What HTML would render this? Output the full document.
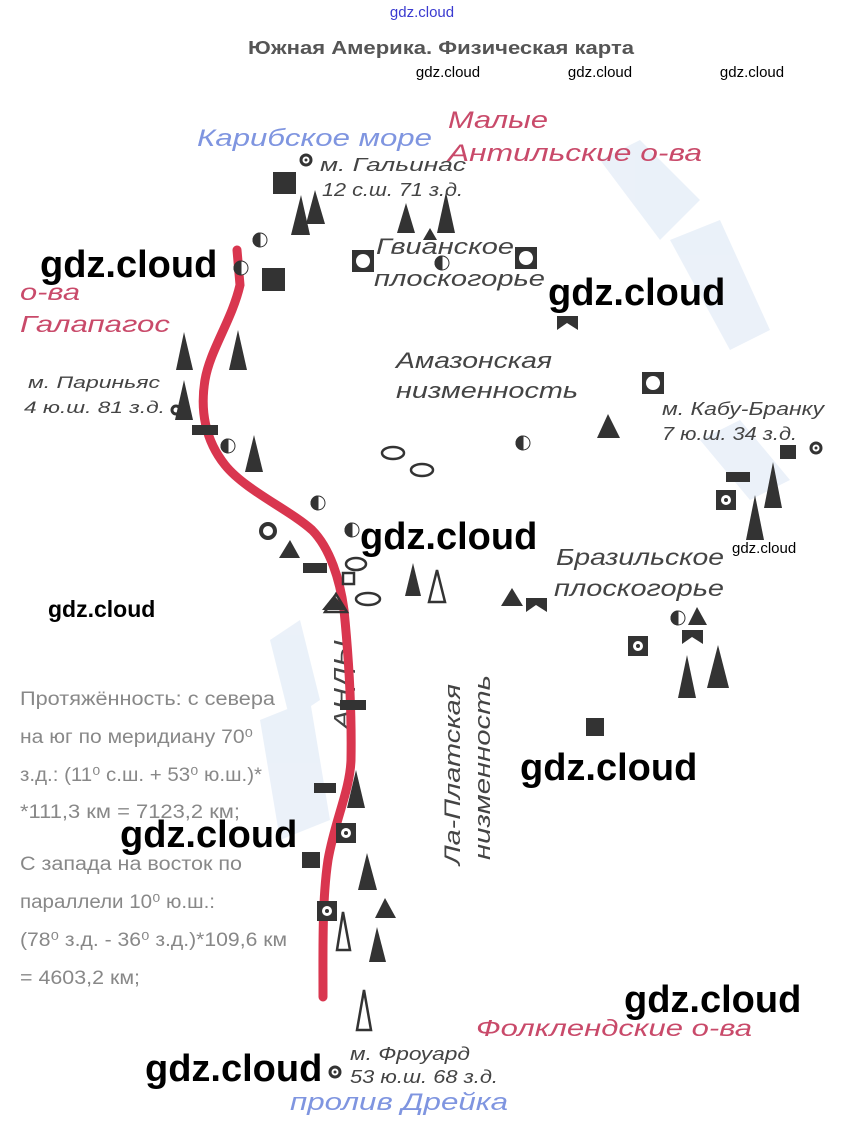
<!DOCTYPE html>
<html><head><meta charset="utf-8"><style>
html,body{margin:0;padding:0;background:#fff;}
svg{display:block}
text{font-family:"Liberation Sans",sans-serif;}
</style></head><body>
<svg width="845" height="1139" viewBox="0 0 845 1139" xmlns="http://www.w3.org/2000/svg">
<rect width="845" height="1139" fill="#fff"/>
<g fill="#e6eef8" opacity="0.8">
<polygon points="600,160 640,140 700,200 660,240"/>
<polygon points="670,240 720,220 770,330 730,350"/>
<polygon points="270,640 300,620 320,700 290,720"/>
<polygon points="260,720 310,700 330,820 280,840"/>
<polygon points="700,440 740,420 790,480 750,500"/>
</g>
<text x="422" y="17" font-size="15" fill="#3a3ad0" text-anchor="middle">gdz.cloud</text>
<text x="248" y="54" font-size="18" font-weight="bold" fill="#555" textLength="386" lengthAdjust="spacingAndGlyphs">Южная Америка. Физическая карта</text>
<text x="448" y="77" font-size="15" fill="#000" text-anchor="middle">gdz.cloud</text>
<text x="600" y="77" font-size="15" fill="#000" text-anchor="middle">gdz.cloud</text>
<text x="752" y="77" font-size="15" fill="#000" text-anchor="middle">gdz.cloud</text>

<g font-style="italic" lengthAdjust="spacingAndGlyphs">
<text x="197" y="146" font-size="24" fill="#7f95e0" textLength="235" lengthAdjust="spacingAndGlyphs">Карибское море</text>
<text x="448" y="128" font-size="24" fill="#c94a6a" textLength="100" lengthAdjust="spacingAndGlyphs">Малые</text>
<text x="448" y="161" font-size="24" fill="#c94a6a" textLength="254" lengthAdjust="spacingAndGlyphs">Антильские о-ва</text>
<text x="320" y="171" font-size="18" fill="#444" textLength="146" lengthAdjust="spacingAndGlyphs">м. Гальинас</text>
<text x="322" y="196" font-size="18" fill="#444" textLength="141" lengthAdjust="spacingAndGlyphs">12 с.ш. 71 з.д.</text>
<text x="376" y="254" font-size="22" fill="#444" textLength="138" lengthAdjust="spacingAndGlyphs">Гвианское</text>
<text x="374" y="286" font-size="22" fill="#444" textLength="171" lengthAdjust="spacingAndGlyphs">плоскогорье</text>
<text x="20" y="300" font-size="23" fill="#c94a6a" textLength="60" lengthAdjust="spacingAndGlyphs">о-ва</text>
<text x="20" y="332" font-size="23" fill="#c94a6a" textLength="150" lengthAdjust="spacingAndGlyphs">Галапагос</text>
<text x="396" y="368" font-size="22" fill="#444" textLength="156" lengthAdjust="spacingAndGlyphs">Амазонская</text>
<text x="396" y="398" font-size="22" fill="#444" textLength="182" lengthAdjust="spacingAndGlyphs">низменность</text>
<text x="28" y="388" font-size="17" fill="#444" textLength="132" lengthAdjust="spacingAndGlyphs">м. Париньяс</text>
<text x="24" y="413" font-size="17" fill="#444" textLength="141" lengthAdjust="spacingAndGlyphs">4 ю.ш. 81 з.д.</text>
<text x="662" y="415" font-size="18" fill="#444" textLength="162" lengthAdjust="spacingAndGlyphs">м. Кабу-Бранку</text>
<text x="662" y="440" font-size="18" fill="#444" textLength="135" lengthAdjust="spacingAndGlyphs">7 ю.ш. 34 з.д.</text>
<text x="556" y="565" font-size="23" fill="#444" textLength="168" lengthAdjust="spacingAndGlyphs">Бразильское</text>
<text x="554" y="596" font-size="23" fill="#444" textLength="170" lengthAdjust="spacingAndGlyphs">плоскогорье</text>
<text x="0" y="0" font-size="23" fill="#444" transform="translate(350,730) rotate(-90)" textLength="90" lengthAdjust="spacingAndGlyphs">АНДЫ</text>
<text x="0" y="0" font-size="22" fill="#444" transform="translate(460,865) rotate(-90)" textLength="181" lengthAdjust="spacingAndGlyphs">Ла-Платская</text>
<text x="0" y="0" font-size="22" fill="#444" transform="translate(490,860) rotate(-90)" textLength="185" lengthAdjust="spacingAndGlyphs">низменность</text>
<text x="476" y="1036" font-size="23" fill="#c94a6a" textLength="276" lengthAdjust="spacingAndGlyphs">Фолклендские о-ва</text>
<text x="350" y="1060" font-size="18" fill="#444" textLength="120" lengthAdjust="spacingAndGlyphs">м. Фроуард</text>
<text x="350" y="1083" font-size="18" fill="#444" textLength="148" lengthAdjust="spacingAndGlyphs">53 ю.ш. 68 з.д.</text>
<text x="290" y="1110" font-size="24" fill="#7f95e0" textLength="218" lengthAdjust="spacingAndGlyphs">пролив Дрейка</text>
</g>

<g font-size="19" fill="#888">
<text x="20" y="705" textLength="255" lengthAdjust="spacingAndGlyphs">Протяжённость: с севера</text>
<text x="20" y="743" textLength="233" lengthAdjust="spacingAndGlyphs">на юг по меридиану 70⁰</text>
<text x="20" y="781" textLength="242" lengthAdjust="spacingAndGlyphs">з.д.: (11⁰ с.ш. + 53⁰ ю.ш.)*</text>
<text x="20" y="818" textLength="220" lengthAdjust="spacingAndGlyphs">*111,3 км = 7123,2 км;</text>
<text x="20" y="870" textLength="222" lengthAdjust="spacingAndGlyphs">С запада на восток по</text>
<text x="20" y="908" textLength="195" lengthAdjust="spacingAndGlyphs">параллели 10⁰ ю.ш.:</text>
<text x="20" y="946" textLength="267" lengthAdjust="spacingAndGlyphs">(78⁰ з.д. - 36⁰ з.д.)*109,6 км</text>
<text x="20" y="984" textLength="120" lengthAdjust="spacingAndGlyphs">= 4603,2 км;</text>
</g>

<path d="M237,250 L240,285 C232,320 210,350 205,380 C200,410 205,440 225,465 C245,490 290,510 312,530 C330,548 340,580 344,610 C348,650 352,700 351,760 C350,790 335,820 328,860 C322,900 323,950 323,997" fill="none" stroke="#d9364f" stroke-width="9" stroke-linecap="round"/>

<g fill="#333">
<rect x="273" y="172" width="23" height="22"/>
<rect x="262" y="268" width="23" height="23"/>
<rect x="586" y="718" width="18" height="18"/>
<rect x="780" y="445" width="16" height="14"/>
<rect x="192" y="425" width="26" height="10"/>
<rect x="303" y="563" width="24" height="10"/>
<rect x="340" y="700" width="26" height="10"/>
<rect x="314" y="783" width="22" height="10"/>
<rect x="302" y="852" width="18" height="16"/>
<rect x="726" y="472" width="24" height="10"/>
<polygon points="291,235 301,195 310,235"/>
<polygon points="306,224 315,190 325,224"/>
<polygon points="397,233 406,203 415,233"/>
<polygon points="437,233 446,192 455,233"/>
<polygon points="423,240 430,228 437,240"/>
<polygon points="176,370 184,332 193,370"/>
<polygon points="229,370 238,330 247,370"/>
<polygon points="175,420 184,380 193,420"/>
<polygon points="245,472 254,435 263,472"/>
<polygon points="279,558 290,540 300,558"/>
<polygon points="405,596 413,563 421,596"/>
<polygon points="501,606 512,588 523,606"/>
<polygon points="597,438 608,414 620,438"/>
<polygon points="746,540 755,495 764,540"/>
<polygon points="764,508 773,462 782,508"/>
<polygon points="688,625 697,607 707,625"/>
<polygon points="678,698 687,655 696,698"/>
<polygon points="707,688 718,645 729,688"/>
<polygon points="322,610 334,595 346,610"/>
<polygon points="347,808 356,770 365,808"/>
<polygon points="358,890 367,853 377,890"/>
<polygon points="375,918 385,898 396,918"/>
<polygon points="369,962 377,927 386,962"/>
<polygon points="557,316 578,316 578,330 567,323 557,330"/>
<polygon points="526,598 547,598 547,612 536,605 526,612"/>
<polygon points="682,630 703,630 703,644 692,637 682,644"/>
</g>
<g fill="none" stroke="#333" stroke-width="2.5">
<polygon points="429,602 437,570 445,602"/>
<polygon points="337,950 343,912 350,950"/>
<polygon points="357,1030 364,990 371,1030"/>
<polygon points="325,612 336,594 347,612"/>
<rect x="343" y="573" width="11" height="11"/>
<ellipse cx="393" cy="453" rx="11" ry="6"/>
<ellipse cx="422" cy="470" rx="11" ry="6"/>
<ellipse cx="356" cy="564" rx="10" ry="6"/>
<ellipse cx="368" cy="599" rx="12" ry="6"/>
<circle cx="268" cy="531" r="7" stroke-width="4"/>
</g>
<g>
<rect x="352" y="250" width="22" height="22" fill="#333"/><circle cx="363" cy="261" r="7" fill="#fff"/>
<rect x="515" y="247" width="22" height="22" fill="#333"/><circle cx="526" cy="258" r="7" fill="#fff"/>
<rect x="642" y="372" width="22" height="22" fill="#333"/><circle cx="653" cy="383" r="7" fill="#fff"/>
<rect x="716" y="490" width="20" height="20" fill="#333"/><circle cx="726" cy="500" r="5" fill="#fff"/><circle cx="726" cy="500" r="2" fill="#333"/>
<rect x="628" y="636" width="20" height="20" fill="#333"/><circle cx="638" cy="646" r="5" fill="#fff"/><circle cx="638" cy="646" r="2" fill="#333"/>
<rect x="336" y="823" width="20" height="20" fill="#333"/><circle cx="346" cy="833" r="5" fill="#fff"/><circle cx="346" cy="833" r="2" fill="#333"/>
<rect x="317" y="901" width="20" height="20" fill="#333"/><circle cx="327" cy="911" r="5" fill="#fff"/><circle cx="327" cy="911" r="2" fill="#333"/>
</g>
<g fill="none" stroke="#333" stroke-width="3">
<circle cx="306" cy="160" r="5"/><circle cx="176" cy="410" r="4"/><circle cx="816" cy="448" r="5"/><circle cx="335" cy="1072" r="5"/>
</g>
<g fill="#333"><circle cx="306" cy="160" r="1.5"/><circle cx="816" cy="448" r="1.5"/><circle cx="335" cy="1072" r="1.5"/></g>
<g stroke="#333" stroke-width="1">
<g transform="translate(260,240)"><circle r="7" fill="#fff"/><path d="M0,-7 A7,7 0 0 0 0,7Z" fill="#333"/></g>
<g transform="translate(241,268)"><circle r="7" fill="#fff"/><path d="M0,-7 A7,7 0 0 0 0,7Z" fill="#333"/></g>
<g transform="translate(442,263)"><circle r="7" fill="#fff"/><path d="M0,-7 A7,7 0 0 0 0,7Z" fill="#333"/></g>
<g transform="translate(228,446)"><circle r="7" fill="#fff"/><path d="M0,-7 A7,7 0 0 0 0,7Z" fill="#333"/></g>
<g transform="translate(318,503)"><circle r="7" fill="#fff"/><path d="M0,-7 A7,7 0 0 0 0,7Z" fill="#333"/></g>
<g transform="translate(352,530)"><circle r="7" fill="#fff"/><path d="M0,-7 A7,7 0 0 0 0,7Z" fill="#333"/></g>
<g transform="translate(523,443)"><circle r="7" fill="#fff"/><path d="M0,-7 A7,7 0 0 0 0,7Z" fill="#333"/></g>
<g transform="translate(678,618)"><circle r="7" fill="#fff"/><path d="M0,-7 A7,7 0 0 0 0,7Z" fill="#333"/></g>
</g>
<g fill="#000" font-family="Liberation Sans,sans-serif" font-weight="bold">
<text x="40" y="277" font-size="38">gdz.cloud</text>
<text x="548" y="305" font-size="38">gdz.cloud</text>
<text x="360" y="549" font-size="38">gdz.cloud</text>
<text x="732" y="553" font-size="15" font-weight="normal">gdz.cloud</text>
<text x="48" y="617" font-size="23">gdz.cloud</text>
<text x="520" y="780" font-size="38">gdz.cloud</text>
<text x="120" y="847" font-size="38">gdz.cloud</text>
<text x="624" y="1012" font-size="38">gdz.cloud</text>
<text x="145" y="1081" font-size="38">gdz.cloud</text>
</g>
</svg>
</body></html>
